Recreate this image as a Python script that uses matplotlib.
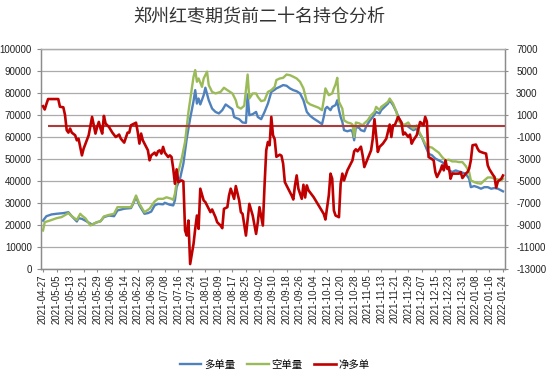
import numpy as np
import matplotlib
matplotlib.use("Agg")
import matplotlib.pyplot as plt
import matplotlib.dates as mdates

plt.rcParams['font.family'] = ['Noto Sans CJK SC', 'DejaVu Sans']
plt.rcParams['axes.unicode_minus'] = False

title = "郑州红枣期货前二十名持仓分析"
series_names = ["多单量", "空单量", "净多单"]
start_date = np.datetime64("2021-04-27")
end_date = np.datetime64("2022-01-24")
zero_line_start = np.datetime64("2021-04-30")

# day offsets from start_date and values
long_day = [0, 2, 5, 8, 12, 15, 17, 20, 21, 23, 25, 29, 32, 34, 36, 39, 42, 44, 48, 52, 53, 55, 57, 60, 62, 64, 66, 68,
            71, 72, 75, 77, 78, 79, 81, 83, 85, 87, 89, 90, 91, 92, 93, 95, 96, 98, 100, 102, 104, 106, 108, 110, 112,
            113, 114, 116, 118, 120, 121, 122, 124, 126, 127, 129, 131, 133, 135, 137, 138, 140, 142, 144, 146, 148,
            150, 152, 154, 156, 158, 160, 163, 165, 166, 167, 168, 170, 171, 173, 174, 175, 176, 177, 178, 180, 182,
            183, 184, 185, 187, 188, 190, 191, 193, 195, 197, 199, 200, 202, 204, 205, 207, 209, 211, 213, 215, 217,
            219, 221, 222, 224, 226, 228, 230, 232, 234, 236, 238, 240, 242, 244, 246, 248, 250, 252, 253, 255, 257,
            259, 261, 263, 265, 267, 269, 271, 272]
long_val = [22000, 24000, 24800, 25100, 25400, 25800, 24000, 21600, 23100, 22800, 22000, 20200, 21300, 21700, 23600,
            24300, 24000, 26600, 27400, 27700, 29200, 32700, 28900, 25100, 25400, 26100, 28900, 29600,
            29400, 30100, 29200, 28900, 31200, 37200, 41000, 47900, 59300, 68400, 76300, 81300, 75200, 77500, 74800,
            79000, 82400, 76700, 72900, 71400, 70700, 72200, 74800, 73700, 72600, 69100, 68700, 68100, 66600, 66400,
            79300, 69900, 70400, 71400, 69100, 68100, 71400, 75200, 80500, 81500, 82100, 82800, 83600, 83300, 82100,
            81300, 80800, 79800, 76700, 71400, 69600, 68400, 66900, 65800, 69100, 72900, 73700, 72200, 73700, 74500,
            76700, 72200, 69100, 66900, 63100, 62600, 63100, 62300, 58500, 64600, 64100, 63100, 62600, 64600, 67200,
            69100, 71400, 70700, 72200, 73700, 75200, 76700, 74500, 71400, 67600, 65300, 65300, 64100, 63100, 63800,
            62000, 60000, 56200, 52400, 51700, 50200, 49400, 48600, 47400, 44800, 44100, 44800, 44300, 43800, 43300,
            41000, 37200, 37700, 37200, 36500, 37200, 37200, 36500, 36800, 36500, 35700, 35300]

short_day = [0, 1, 4, 8, 11, 15, 17, 20, 22, 23, 25, 28, 31, 34, 36, 39, 42, 44, 48, 52, 53, 55, 57, 60, 63, 66, 68,
             71, 73, 76, 77, 78, 80, 82, 84, 86, 88, 89, 90, 91, 92, 94, 95, 97, 98, 100, 102, 105, 107, 109, 112,
             114, 115, 117, 119, 121, 122, 124, 126, 127, 129, 131, 133, 135, 137, 138, 140, 142, 144, 146, 148, 150,
             152, 154, 156, 158, 160, 163, 165, 166, 167, 168, 169, 171, 172, 173, 174, 175, 177, 178, 180, 182, 183,
             184, 185, 187, 189, 190, 192, 194, 196, 197, 199, 200, 202, 204, 205, 207, 209, 210, 212, 214, 216, 217,
             219, 221, 222, 224, 226, 228, 230, 232, 234, 236, 238, 240, 242, 244, 246, 248, 250, 252, 253, 255, 257,
             259, 261, 263, 265, 267, 269, 271, 272]
short_val = [17500, 21300, 22000, 23100, 23600, 25400, 24000, 22300, 25100, 24300, 23100, 19800, 21000, 21700, 23900,
             24600, 25100, 28100, 28100, 28100, 29600, 33400, 29600, 25800, 27400, 30700, 31900,
             31900, 32600, 31900, 31400, 34200, 44100, 50200, 57800, 71400, 82100, 87400, 90400, 85100, 86600, 82800,
             86600, 89700, 83600, 80500, 79800, 80500, 82400, 81300, 79800, 76700, 73700, 72900, 74200, 88400, 77500,
             79800, 79800, 78300, 76300, 76700, 80500, 81300, 82800, 85900, 86600, 86900, 88400, 88100, 87400, 86600,
             85100, 82100, 76000, 74800, 74200, 73300, 72200, 76700, 82100, 80500, 79000, 79800, 82100, 83900, 86900,
             76000, 72900, 67600, 66600, 66200, 65700, 60000, 66600, 66200, 65300, 66200, 67600, 69900, 71400, 73700,
             72200, 73700, 74800, 76000, 77500, 75200, 71400, 67600, 65700, 65700, 66600, 65300, 63800, 65300, 63100,
             60000, 57000, 55500, 55200, 54000, 52900, 50900, 49400, 49700, 48900, 48900, 48600, 48600, 46800, 44100,
             40300, 39500, 39000, 38800, 40300, 41600, 41600, 41100, 40700, 40300, 41000]

net_day = [0, 1, 2, 3, 9, 10, 12, 13, 14, 15, 16, 17, 19, 20, 21, 23, 24, 27, 29, 30, 31, 32, 33, 34, 35, 36, 37, 39,
           41, 43, 45, 46, 48, 50, 51, 52, 54, 55, 56, 57, 58, 59, 61, 62, 63, 64, 66, 67, 68, 69, 70, 71, 72, 74, 75,
           76, 77, 78, 79, 80, 82, 83, 84, 85, 86, 87, 89, 90, 91, 92, 93, 95, 96, 98, 99, 100, 102, 103, 105, 106,
           107, 109, 110, 111, 113, 114, 116, 117, 118, 120, 122, 124, 126, 127, 128, 130, 131, 132, 133, 134, 135,
           136, 137, 138, 140, 141, 142, 143, 145, 147, 148, 149, 150, 151, 153, 154, 155, 156, 157, 160, 163, 166,
           167, 169, 170, 171, 172, 173, 175, 176, 177, 178, 179, 180, 182, 183, 184, 185, 186, 188, 189, 190, 192,
           194, 195, 196, 198, 199, 201, 203, 205, 206, 207, 208, 210, 212, 213, 214, 216, 217, 218, 219, 221, 222,
           223, 225, 226, 227, 228, 229, 231, 232, 233, 235, 236, 237, 238, 239, 240, 241, 242, 244, 246, 247, 248,
           250, 251, 252, 253, 254, 256, 257, 258, 260, 262, 263, 264, 266, 267, 268, 269, 271, 272]
net_val = [1800, 1500, 2000, 2450, 2450, 1750, 1700, 1000, -380, -600, -230, -600, -840, -1300, -1150, -2670, -2060,
           -840, 830, 70, -690, -90, 370, -230, -690, 920, 220, -90, -600, -1000, -780, -1150, -1510, -600, -600, 70,
           220, 300, -540, -1600, -690, -1300, -1900, -2200, -3120, -2670, -2420, -2670, -2300, -2210, -2510, -1900,
           -2420, -2820, -2670, -2820, -3880, -5250, -3940, -5100, -4950, -5040, -9500, -9960, -8590, -12550, -10720,
           -9350, -8140, -9350, -5700, -6770, -6920, -7530, -7830, -7590, -8290, -8750, -9050, -9290, -7530, -7380,
           -6310, -5700, -6620, -5460, -6770, -7830, -7990, -9960, -7080, -8140, -9810, -8750, -7380, -9050, -5400,
           -2210, -1450, -1750, 830, -840, -1200, -2800, -2610, -2700, -3430, -5100, -5700, -6310, -6680, -5400,
           -4490, -5700, -6620, -5340, -6500, -5400, -5850, -6460, -7230, -7990, -8500, -6310, -4330, -4790, -7680,
           -8140, -8290, -5250, -4330, -4950, -4490, -4030, -3430, -3120, -2300, -2120, -2300, -1880, -2670, -3730,
           -2970, -2210, -1150, 620, -2360, -1900, -1600, -1150, 130, -1000, 70, 70, 830, 310, -780, -600, -1000,
           -780, -1610, -1300, -840, -230, 370, 70, 830, 400, -2820, -2910, -3120, -4190, -4640, -4030, -3580, -4030,
           -3120, -3880, -3730, -4790, -4330, -4330, -4330, -4190, -4730, -4330, -4190, -3880, -3120, -1750, -1690,
           -2060, -2300, -2420, -2510, -3580, -3940, -4430, -4640, -5600, -5040, -4800, -4500]

left_ticks = list(range(0, 100001, 10000))
right_ticks = list(range(-13000, 7001, 2000))
tick_step_days = 8

fig = plt.figure(figsize=(5.5, 3.75), dpi=100)
ax = fig.add_axes([41 / 550, 1 - 269 / 375, 464 / 550, 220 / 375])
ax2 = ax.twinx()

def to_dates(days):
    return start_date + np.array(days).astype('timedelta64[D]')

lw_line = 1.7
ax.plot(to_dates(long_day), long_val, color='#4F81BD', lw=lw_line, zorder=3, label=series_names[0])
ax.plot(to_dates(short_day), short_val, color='#9BBB59', lw=lw_line, zorder=3, label=series_names[1])

ax2.hlines(0, mdates.date2num(zero_line_start), mdates.date2num(end_date) + 1.5,
           color='#AE3A3A', lw=1.5, zorder=2)
ax2.plot(to_dates(net_day), net_val, color='#C00000', lw=1.9, zorder=3, label=series_names[2])

ax.set_ylim(0, 100000)
ax2.set_ylim(-13000, 7000)
ax.set_yticks(left_ticks)
ax.set_yticklabels([str(v) for v in left_ticks])
ax2.set_yticks(right_ticks)
ax2.set_yticklabels([str(v) for v in right_ticks])

x0 = mdates.date2num(start_date)
x1 = mdates.date2num(end_date)
ax.set_xlim(x0 - 1.2, x1 + 1.2)
xt = start_date + np.arange(0, int((end_date - start_date).astype(int)) + 1, tick_step_days).astype('timedelta64[D]')
ax.set_xticks(mdates.date2num(xt))
ax.set_xticklabels([str(d) for d in xt], rotation=90, fontfamily='Liberation Sans', fontsize=7, color='#222222')

ax.grid(axis='y', color='#ABABAB', lw=0.9)
ax.set_axisbelow(True)
for a in (ax, ax2):
    for s in a.spines.values():
        s.set_color('#8C8C8C')
        s.set_linewidth(0.9)
    a.spines['top'].set_color('#ABABAB')

ax.tick_params(axis='y', length=3, pad=3.6, labelsize=7, colors='#222222', width=0.8)
ax.tick_params(axis='y', color='#8C8C8C')
ax.tick_params(axis='x', length=2.5, pad=1.5, width=0.8, color='#8C8C8C')
ax2.tick_params(axis='y', length=2.5, pad=5.5, labelsize=7, colors='#222222', width=0.8)
ax2.tick_params(axis='y', color='#8C8C8C')
for lab in ax.get_yticklabels() + ax2.get_yticklabels():
    lab.set_fontfamily('Liberation Sans')

fig.text(0.471, 0.953, title, ha='center', va='center', fontsize=13, color='#333333')

h1, l1 = ax.get_legend_handles_labels()
h2, l2 = ax2.get_legend_handles_labels()
fig.legend(h1 + h2, l1 + l2, loc='center', bbox_to_anchor=(0.499, 0.027), ncol=3, frameon=False,
           fontsize=7.5, handlelength=2.1, handletextpad=0.25, columnspacing=1.1)

fig.savefig('out.png', dpi=100)
